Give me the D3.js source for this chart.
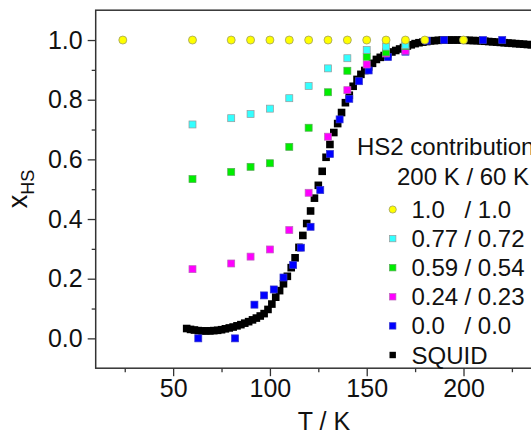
<!DOCTYPE html>
<html>
<head>
<meta charset="utf-8">
<script src="https://cdn.jsdelivr.net/npm/d3@7"></script>
<style>
  body { margin: 0; background: #fff; }
  svg text { font-family: "Liberation Sans", Arial, sans-serif; fill: #111; }
</style>
</head>
<body>
<div id="chart"></div>
<script>
var width = 531,
    height = 435;

// HS2 contribution series (T in K, x_HS)
var T_sim = [60, 80, 90, 100, 110, 120, 130, 140, 150, 160, 170];
var cyanVals    = [0.717, 0.738, 0.752, 0.770, 0.805, 0.846, 0.905, 0.939, 0.967, 0.978, 0.983];
var greenVals   = [0.534, 0.558, 0.575, 0.587, 0.642, 0.706, 0.825, 0.897, 0.944, 0.959, 0.980];
var magentaVals = [0.232, 0.251, 0.274, 0.298, 0.363, 0.488, 0.676, 0.832, 0.918, 0.955, 0.964];

var T_yellow = [24, 60, 80, 90, 100, 110, 120, 130, 140, 150, 160, 170, 180, 200];
var yellowVals = [1, 1, 1, 1, 1, 1, 1, 1, 1, 1, 1, 1, 1, 1];

var T_blue = [63, 82, 92, 97, 102, 107, 112, 116, 121, 126, 131, 136, 141, 146, 151, 161, 170, 181, 190, 210, 220];
var blueVals = [0, 0, 0.113, 0.144, 0.164, 0.204, 0.246, 0.304, 0.374, 0.497, 0.618, 0.734, 0.803, 0.862, 0.898, 0.943, 0.961, 0.998, 1.0, 1.0, 1.0];

// SQUID measurement [T, x_HS]
var squid = [
  [57,0.033],[59,0.030],[61,0.028],[63,0.026],[65,0.025],[67,0.025],[69,0.025],[71,0.026],
  [73,0.027],[75,0.029],[77,0.032],[79,0.035],[81,0.038],[83,0.042],[85,0.046],[87,0.051],
  [89,0.056],[91,0.062],[93,0.068],[95,0.075],[97,0.083],[99,0.097],[101,0.115],[103,0.138],
  [105,0.160],[107,0.183],[109,0.208],[111,0.237],[113,0.270],[115,0.305],[117,0.345],[119,0.385],
  [121,0.427],[123,0.470],[125,0.513],[127,0.560],[129,0.607],[131,0.650],[133,0.690],[135,0.720],
  [137,0.757],[139,0.790],[141,0.815],[143,0.845],[145,0.868],[147,0.885],[149,0.898],[151,0.910],
  [153,0.922],[155,0.935],[157,0.942],[159,0.948],[161,0.954],[163,0.960],[165,0.965],[167,0.970],
  [169,0.975],[171,0.980],[173,0.984],[175,0.988],[177,0.991],[179,0.993],[181,0.995],[183,0.997],
  [185,0.998],[187,0.999],[189,1.0],[191,1.0],[193,1.0],[195,1.0],[197,1.0],[199,1.0],
  [201,0.999],[203,0.999],[205,0.998],[207,0.998],[209,0.997],[211,0.996],[213,0.995],[215,0.994],
  [217,0.993],[219,0.992],[221,0.991],[223,0.990],[225,0.989],[227,0.988],[229,0.987],[231,0.986],
  [233,0.985],[235,0.984],[237,0.983]
];

var xMajor = [50, 100, 150, 200];
var xMinor = [25, 75, 125, 175, 225];
var yMajor = [0.0, 0.2, 0.4, 0.6, 0.8, 1.0];
var yMinor = [0.1, 0.3, 0.5, 0.7, 0.9];

var legendLeft  = ["1.0", "0.77", "0.59", "0.24", "0.0", "SQUID"];
var legendRight = ["/ 1.0", "/ 0.72", "/ 0.54", "/ 0.23", "/ 0.0", ""];

var x = d3.scaleLinear().domain([10, 250]).range([95.7, 560.3]);
var y = d3.scaleLinear().domain([-0.1, 1.1]).range([368.2, 10.2]);

var svg = d3.select('#chart').append('svg')
  .attr('width', width)
  .attr('height', height);

var axisColor = '#333';

// frame (top line; right side falls off the canvas)
svg.append('rect')
  .attr('x', x(10)).attr('y', y(1.1))
  .attr('width', x(250) - x(10)).attr('height', y(-0.1) - y(1.1))
  .attr('fill', 'none').attr('stroke', axisColor).attr('stroke-width', 1.5);

function styleAxis(g) {
  g.select('.domain').remove();
  g.selectAll('line').attr('stroke', axisColor).attr('stroke-width', 1.3);
  g.selectAll('text').attr('font-size', 25).attr('fill', '#111');
}

svg.append('g')
  .attr('transform', 'translate(0,' + y(-0.1) + ')')
  .call(d3.axisBottom(x).tickValues(xMajor).tickSize(8).tickPadding(3).tickFormat(d3.format('d')))
  .call(styleAxis);
svg.append('g')
  .attr('transform', 'translate(0,' + y(-0.1) + ')')
  .call(d3.axisBottom(x).tickValues(xMinor).tickSize(4).tickFormat(''))
  .call(styleAxis);
svg.append('g')
  .attr('transform', 'translate(' + x(10) + ',0)')
  .call(d3.axisLeft(y).tickValues(yMajor).tickSize(8).tickPadding(5).tickFormat(d3.format('.1f')))
  .call(styleAxis);
svg.append('g')
  .attr('transform', 'translate(' + x(10) + ',0)')
  .call(d3.axisLeft(y).tickValues(yMinor).tickSize(4).tickFormat(''))
  .call(styleAxis);

// axis titles
svg.append('text')
  .attr('x', 324).attr('y', 430)
  .attr('text-anchor', 'middle')
  .attr('font-size', 25)
  .text('T / K');

var ylab = svg.append('text')
  .attr('transform', 'translate(27,189) rotate(-90)')
  .attr('text-anchor', 'middle')
  .attr('font-size', 27);
ylab.append('tspan').text('x');
ylab.append('tspan').attr('font-size', 18).attr('dy', 7).text('HS');

var plot = svg.append('g');
var sq = 7;

function squares(data, fill, stroke, size) {
  plot.append('g').selectAll('rect')
    .data(data).enter()
    .append('rect')
    .attr('x', function(d) { return x(d[0]) - size / 2; })
    .attr('y', function(d) { return y(d[1]) - size / 2; })
    .attr('width', size).attr('height', size)
    .attr('fill', fill)
    .attr('stroke', stroke)
    .attr('stroke-width', stroke === 'none' ? 0 : 0.7);
}

function zip(ts, vs) {
  return ts.map(function(t, i) { return [t, vs[i]]; });
}

squares(squid, '#000', 'none', 7.6);
squares(zip(T_blue, blueVals), '#0000ff', '#3333cc', sq);
squares(zip(T_sim, magentaVals), '#ff00ff', '#bb66bb', sq);
squares(zip(T_sim, greenVals), '#00ee00', '#55aa55', sq);
squares(zip(T_sim, cyanVals), '#33ffff', '#999999', sq);

plot.append('g').selectAll('circle')
  .data(zip(T_yellow, yellowVals)).enter()
  .append('circle')
  .attr('cx', function(d) { return x(d[0]); })
  .attr('cy', function(d) { return y(d[1]); })
  .attr('r', 4)
  .attr('fill', '#ffff00')
  .attr('stroke', '#a0a060')
  .attr('stroke-width', 0.8);

// legend
var leg = svg.append('g');
leg.append('text').attr('x', 357).attr('y', 155).attr('font-size', 24).text('HS2 contribution');
leg.append('text').attr('x', 397).attr('y', 185).attr('font-size', 24).text('200 K / 60 K');

var legFill = ['#ffff00', '#33ffff', '#00ee00', '#ff00ff', '#0000ff', '#000'];
var legStroke = ['#a0a060', '#999999', '#55aa55', '#bb66bb', '#3333cc', 'none'];

legendLeft.forEach(function(lbl, i) {
  var cy = 209.5 + i * 29.1;
  if (i === 0) {
    leg.append('circle').attr('cx', 392.7).attr('cy', cy).attr('r', 3.6)
      .attr('fill', legFill[i]).attr('stroke', legStroke[i]).attr('stroke-width', 0.8);
  } else {
    leg.append('rect').attr('x', 392.7 - 3.2).attr('y', cy - 3.2).attr('width', 6.4).attr('height', 6.4)
      .attr('fill', legFill[i]).attr('stroke', legStroke[i]).attr('stroke-width', legStroke[i] === 'none' ? 0 : 0.7);
  }
  leg.append('text').attr('x', 411.5).attr('y', cy + 8.5).attr('font-size', 24).text(lbl);
  if (legendRight[i]) {
    leg.append('text').attr('x', 464.5).attr('y', cy + 8.5).attr('font-size', 24).text(legendRight[i]);
  }
});
</script>
</body>
</html>
